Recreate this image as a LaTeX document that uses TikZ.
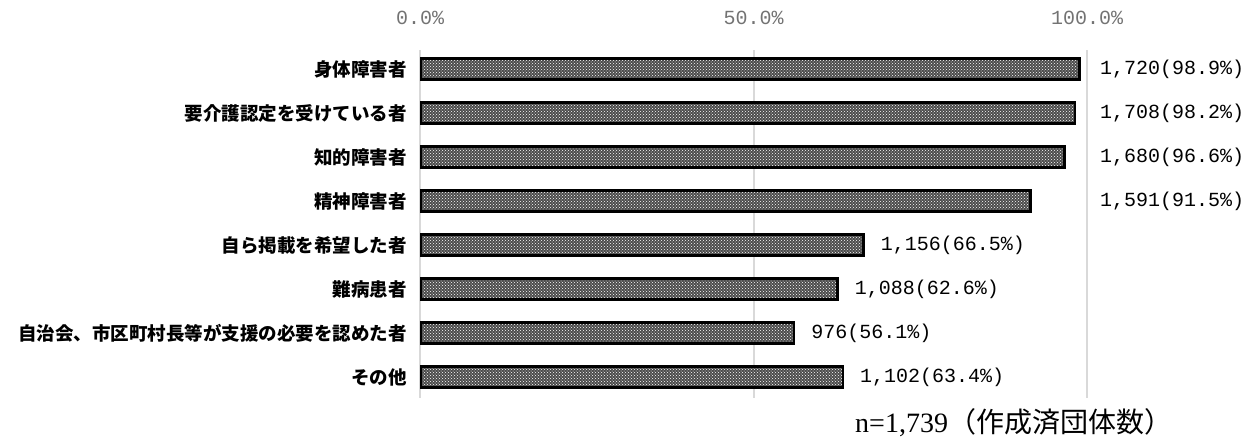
\documentclass[tikz,border=0pt]{standalone}
\usepackage{fontspec}
\newfontfamily\jpfont{Noto Sans CJK JP}
\newfontfamily\numfont{Liberation Mono}
\newfontfamily\nserif{Liberation Serif}
\usetikzlibrary{patterns}
\tikzset{
  gridline/.style={draw=black!15, line width=2pt},
  barbox/.style={draw=black, line width=2.4pt, preaction={fill=black!70}, pattern=crosshatch dots, pattern color=white},
  catlabel/.style={anchor=east, inner sep=0pt, font=\jpfont\bfseries\fontsize{18.5}{18.5}\selectfont},
  vallabel/.style={anchor=west, inner sep=0pt, font=\numfont\fontsize{20}{20}\selectfont},
  ticklabel/.style={inner sep=0pt, text=black!55, font=\numfont\fontsize{20}{20}\selectfont}
}

\begin{document}
\begin{tikzpicture}[x=1pt, y=-1pt]
	\useasboundingbox (0,0) rectangle (1245,437);
	%%%%% GRID %%%%%
	\draw[gridline] (420,50) -- (420,398);
	\draw[gridline] (753.5,50) -- (753.5,398);
	\draw[gridline] (1087,50) -- (1087,398);
	\node[ticklabel] (tick0) at (420,18) {0.0\%};
	\node[ticklabel] (tick50) at (753.5,18) {50.0\%};
	\node[ticklabel] (tick100) at (1087,18) {100.0\%};
	
	%%%%% BARS %%%%%
	\foreach \name/\p/\n [count=\i] in {
		{身体障害者}/98.9/{1,720},
		{要介護認定を受けている者}/98.2/{1,708},
		{知的障害者}/96.6/{1,680},
		{精神障害者}/91.5/{1,591},
		{自ら掲載を希望した者}/66.5/{1,156},
		{難病患者}/62.6/{1,088},
		{自治会、市区町村長等が支援の必要を認めた者}/56.1/{976},
		{その他}/63.4/{1,102}}
	{
		\pgfmathsetmacro\yc{69+44*(\i-1)}
		\pgfmathsetmacro\xe{420+6.67*\p}
		\pgfmathsetmacro\lx{\i<5 ? 1100 : \xe+17}
		\node[catlabel] (cat\i) at (407,\yc) {\name};
		\draw[barbox] (421,\yc-10.5) rectangle (\xe,\yc+10.5);
		\node[vallabel] (val\i) at (\lx,\yc) {\n(\p\%)};
	}
	
	\node[anchor=west, inner sep=0pt, font=\fontsize{28}{28}\selectfont] (total) at (855,423)
		{{\nserif n=1,739}{\jpfont （作成済団体数）}};
\end{tikzpicture}
\end{document}
